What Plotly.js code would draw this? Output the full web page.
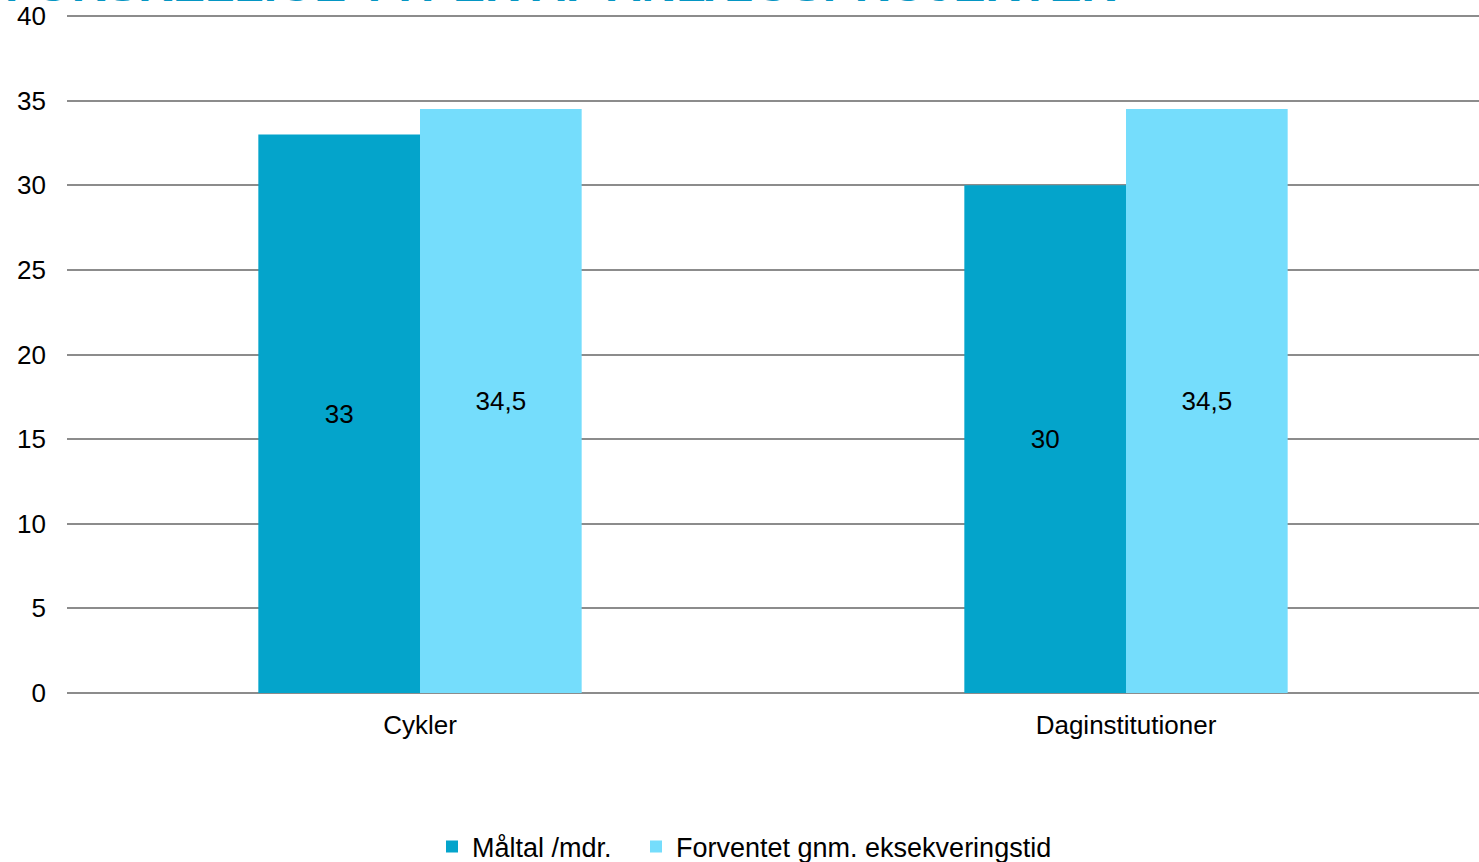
<!DOCTYPE html>
<html>
<head>
<meta charset="utf-8">
<script src="https://cdn.plot.ly/plotly-3.0.1.min.js"></script>
<style>html,body{margin:0;padding:0;background:#fff;}#chart{width:1479px;height:862px;}</style>
</head>
<body>
<div id="chart"></div>
<script>
const categories = ["Cykler", "Daginstitutioner"];
const seriesNames = ["Måltal /mdr.", "Forventet gnm. eksekveringstid"];
const maaltal = [33, 30];
const forventet = [34.5, 34.5];
const maaltalLabels = ["33", "30"];
const forventetLabels = ["34,5", "34,5"];
const yTicks = [0, 5, 10, 15, 20, 25, 30, 35, 40];
const titleText = "FORSKELLIGE TYPER AF ANLÆGSPROJEKTER";

const font = "Liberation Sans, Arial, sans-serif";

const traces = [
  {
    type: "bar", name: seriesNames[0], x: categories, y: maaltal, legend: "legend",
    text: maaltalLabels, textposition: "inside", insidetextanchor: "middle",
    textfont: {family: font, size: 26, color: "#000"}, constraintext: "none",
    marker: {color: "#04A4CB"}, hoverinfo: "skip", cliponaxis: false
  },
  {
    type: "bar", name: seriesNames[1], x: categories, y: forventet, legend: "legend2",
    text: forventetLabels, textposition: "inside", insidetextanchor: "middle",
    textfont: {family: font, size: 26, color: "#000"}, constraintext: "none",
    marker: {color: "#75DDFC"}, hoverinfo: "skip", cliponaxis: false
  }
];

const legendBase = {
  orientation: "h", xanchor: "left", xref: "container",
  y: 1 - 847/862, yanchor: "middle", yref: "container",
  itemwidth: 30, bgcolor: "rgba(0,0,0,0)",
  font: {family: font, size: 27, color: "#000"}
};

const layout = {
  width: 1479, height: 862,
  margin: {l: 67, r: 0, t: 14, b: 169},
  paper_bgcolor: "#fff", plot_bgcolor: "#fff",
  font: {family: font, size: 26, color: "#000"},
  barmode: "group", bargap: 0.542, bargroupgap: 0,
  showlegend: true,
  legend: Object.assign({}, legendBase, {x: 432/1479}),
  legend2: Object.assign({}, legendBase, {x: 636/1479}),
  xaxis: {showgrid: false, zeroline: false, showline: false, ticks: "",
          ticklabelstandoff: 14, tickfont: {family: font, size: 26, color: "#000"}},
  yaxis: {range: [0, 40.12], tickvals: yTicks, ticktext: yTicks.map(String),
          showgrid: true, gridcolor: "#8C8C8C", gridwidth: 2,
          zeroline: true, zerolinecolor: "#8C8C8C", zerolinewidth: 2,
          showline: false, ticks: "", ticklabelstandoff: 20,
          tickfont: {family: font, size: 26, color: "#000"}},
  annotations: [{
    text: "<b>" + titleText + "</b>", xref: "paper", yref: "paper",
    x: -0.045, xanchor: "left", y: 1.0 + 1/679, yanchor: "bottom", showarrow: false,
    font: {family: font, size: 48, color: "#0596C3"}
  }]
};

Plotly.newPlot("chart", traces, layout, {displayModeBar: false, staticPlot: true});
</script>
</body>
</html>
